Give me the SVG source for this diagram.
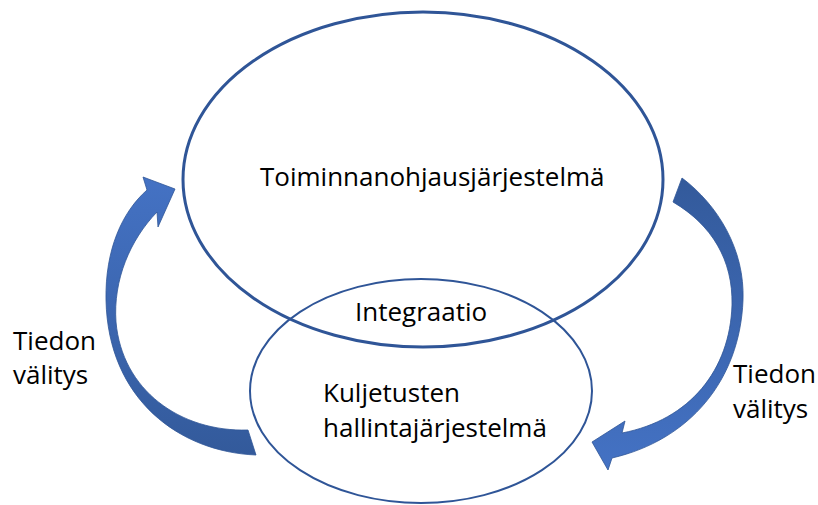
<svg xmlns="http://www.w3.org/2000/svg" width="818" height="505" viewBox="0 0 818 505">
<style>
text{font-family:"Open Sans","Liberation Sans",sans-serif;font-size:26px;fill:#000}
.big{fill:none;stroke:#2F5597;stroke-width:3}
.small{fill:none;stroke:#2F5597;stroke-width:2}
.arr{stroke:#2F5597;stroke-width:0.8}
</style>
<defs>
<linearGradient id="gl" x1="0" y1="1" x2="0" y2="0">
<stop offset="0" stop-color="#335A9B"/>
<stop offset="1" stop-color="#4472C4"/>
</linearGradient>
<linearGradient id="gr" x1="0" y1="0" x2="0" y2="1">
<stop offset="0" stop-color="#335A9B"/>
<stop offset="1" stop-color="#4472C4"/>
</linearGradient>
</defs>
<rect width="818" height="505" fill="#fff"/>
<g id="toiminnanohjaus">
<ellipse class="big" cx="423" cy="179.5" rx="240" ry="167.5"/>
<text x="260" y="186">Toiminnanohjausjärjestelmä</text>
</g>
<g id="kuljetusten">
<ellipse class="small" cx="421" cy="391" rx="171" ry="112"/>
<text x="323" y="402">Kuljetusten</text>
<text x="323" y="437">hallintajärjestelmä</text>
</g>
<g id="integraatio">
<text x="355" y="321">Integraatio</text>
</g>
<g id="connectors">
<path class="arr" fill="url(#gl)" d="M256,455 C180,452 108,400 106,300 C105,250 122,212 147,190 L143,177 L175,189 L158,227 L157,212 C130,240 113,280 116,322 C122,390 180,432 248,430 Z"/>
<path class="arr" fill="url(#gr)" d="M682,178 C718,205 745,250 743,300 C740,380 690,440 612,458 L608,470 L592,442 L625,421 L622,433 C690,420 730,370 732,305 C733,260 712,225 673,202 Z"/>
</g>
<g id="label-left">
<text x="13" y="350">Tiedon</text>
<text x="13" y="384">välitys</text>
</g>
<g id="label-right">
<text x="733" y="383">Tiedon</text>
<text x="733" y="418">välitys</text>
</g>
</svg>
